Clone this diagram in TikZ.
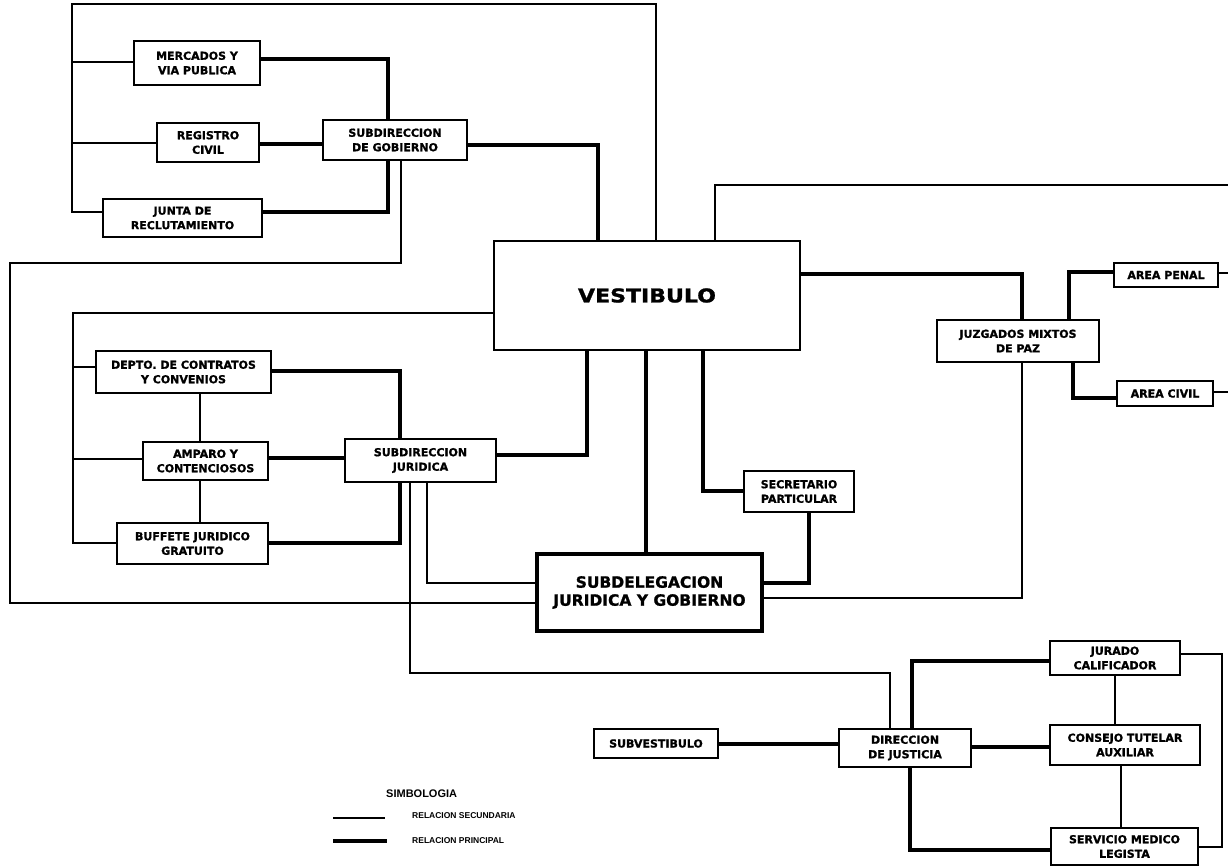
\documentclass[tikz,border=0pt]{standalone}
\usepackage{fontspec}
\usepackage{graphicx}
\setmainfont{DejaVu Sans}
\newfontfamily\heavyfont[FakeBold=1.2]{DejaVu Sans}
\newfontfamily\legfont{Liberation Sans}
\begin{document}
\begin{tikzpicture}[x=1pt,y=-1pt,
  box/.style={draw, line width=1.3pt, inner sep=0pt, align=center,
    font=\heavyfont\bfseries\fontsize{11}{14.5}\selectfont},
  bigbox/.style={draw, line width=4pt, inner sep=0pt, align=center,
    font=\heavyfont\bfseries\fontsize{15.5}{18}\selectfont},
  sec/.style={line width=1.2pt},
  prin/.style={line width=4pt},
  legtitle/.style={inner sep=0pt, font=\legfont\bfseries\fontsize{11}{13}\selectfont},
  legtext/.style={inner sep=0pt, font=\legfont\bfseries\fontsize{8.5}{10}\selectfont}]
\useasboundingbox (0,0) rectangle (1228,867);

% boxes
\node[box, minimum width=126pt, minimum height=44pt] (mercados) at (197,63) {MERCADOS Y\\VIA PUBLICA};
\node[box, minimum width=102pt, minimum height=39pt] (registro) at (208,142.5) {REGISTRO\\CIVIL};
\node[box, minimum width=144pt, minimum height=40pt] (subgob) at (395,140) {SUBDIRECCION\\DE GOBIERNO};
\node[box, minimum width=159pt, minimum height=38pt] (junta) at (182.5,218) {JUNTA DE\\RECLUTAMIENTO};
\node[draw, line width=1.3pt, inner sep=0pt, minimum width=306pt, minimum height=109pt,
  font=\heavyfont\bfseries\fontsize{19}{22}\selectfont] (vestibulo) at (647,295.5) {\scalebox{1.16}[1]{VESTIBULO}};
\node[box, minimum width=175pt, minimum height=42pt] (depto) at (183.5,372) {DEPTO. DE CONTRATOS\\Y CONVENIOS};
\node[box, minimum width=125pt, minimum height=38pt] (amparo) at (205.5,461) {AMPARO Y\\CONTENCIOSOS};
\node[box, minimum width=151pt, minimum height=41pt] (buffete) at (192.5,543.5) {BUFFETE JURIDICO\\GRATUITO};
\node[box, minimum width=151pt, minimum height=43pt] (subjur) at (420.5,460.5) {SUBDIRECCION\\JURIDICA};
\node[box, minimum width=110pt, minimum height=41pt] (secret) at (799,491.5) {SECRETARIO\\PARTICULAR};
\node[bigbox, minimum width=225pt, minimum height=77pt] (subdel) at (649.5,592.5) {SUBDELEGACION\\JURIDICA Y GOBIERNO};
\node[box, minimum width=162pt, minimum height=42pt] (juzg) at (1018,341) {JUZGADOS MIXTOS\\DE PAZ};
\node[box, minimum width=104pt, minimum height=24pt] (penal) at (1166,275) {AREA PENAL};
\node[box, minimum width=96pt, minimum height=25pt] (civil) at (1165,393.5) {AREA CIVIL};
\node[box, minimum width=124pt, minimum height=29pt] (subvest) at (656,743.5) {SUBVESTIBULO};
\node[box, minimum width=132pt, minimum height=38pt] (direcc) at (905,748) {DIRECCION\\DE JUSTICIA};
\node[box, minimum width=130pt, minimum height=34pt] (jurado) at (1115,658) {JURADO\\CALIFICADOR};
\node[box, minimum width=150pt, minimum height=40pt] (consejo) at (1125,745) {CONSEJO TUTELAR\\AUXILIAR};
\node[box, minimum width=147pt, minimum height=37pt] (servicio) at (1124.5,846.5) {SERVICIO MEDICO\\LEGISTA};

% free ends at the picture edge
\coordinate (edgeT) at (1228,185);
\coordinate (edgeP) at (1228,273);
\coordinate (edgeC) at (1228,392);

% principal relations
\draw[prin] (mercados.east |- 0,59) -| (subgob.north -| 388,0);
\draw[prin] (registro.east |- 0,144) -- (subgob.west |- 0,144);
\draw[prin] (junta.east |- 0,212) -| (subgob.south -| 388,0);
\draw[prin] (subgob.east |- 0,145) -| (vestibulo.north -| 598,0);
\draw[prin] (depto.east |- 0,371) -| (subjur.north -| 400,0);
\draw[prin] (amparo.east |- 0,458) -- (subjur.west |- 0,458);
\draw[prin] (buffete.east |- 0,543) -| (subjur.south -| 400,0);
\draw[prin] (subjur.east |- 0,455) -| (vestibulo.south -| 587,0);
\draw[prin] (vestibulo.south -| 646,0) -- (subdel.north -| 646,0);
\draw[prin] (vestibulo.south -| 703,0) |- (secret.west |- 0,491);
\draw[prin] (secret.south -| 809,0) |- (subdel.east |- 0,583);
\draw[prin] (vestibulo.east |- 0,274) -| (juzg.north -| 1022,0);
\draw[prin] (juzg.north -| 1069,0) |- (penal.west |- 0,272);
\draw[prin] (juzg.south -| 1073,0) |- (civil.west |- 0,398);
\draw[prin] (subvest.east |- 0,744) -- (direcc.west |- 0,744);
\draw[prin] (direcc.north -| 912,0) |- (jurado.west |- 0,661);
\draw[prin] (consejo.west |- 0,747) -- (direcc.east |- 0,747);
\draw[prin] (direcc.south -| 910,0) |- (servicio.west |- 0,850);

% secondary relations
\draw[sec] (vestibulo.north -| 656,0) -- (656,4) -| (72,212) -- (junta.west |- 0,212);
\draw[sec] (72,62) -- (mercados.west |- 0,62);
\draw[sec] (72,143) -- (registro.west |- 0,143);
\draw[sec] (subgob.south -| 401,0) -- (401,263) -| (10,603) -- (subdel.west |- 0,603);
\draw[sec] (vestibulo.west |- 0,313) -| (73,543) -- (buffete.west |- 0,543);
\draw[sec] (73,367) -- (depto.west |- 0,367);
\draw[sec] (73,459) -- (amparo.west |- 0,459);
\draw[sec] (depto.south -| 200,0) -- (amparo.north -| 200,0);
\draw[sec] (amparo.south -| 200,0) -- (buffete.north -| 200,0);
\draw[sec] (subjur.south -| 427,0) |- (subdel.west |- 0,583);
\draw[sec] (subjur.south -| 410,0) |- (890,673) -- (direcc.north -| 890,0);
\draw[sec] (vestibulo.north -| 715,0) |- (edgeT);
\draw[sec] (subdel.east |- 0,598) -| (juzg.south -| 1022,0);
\draw[sec] (penal.east |- 0,273) -- (edgeP);
\draw[sec] (civil.east |- 0,392) -- (edgeC);
\draw[sec] (jurado.south -| 1115,0) -- (consejo.north -| 1115,0);
\draw[sec] (consejo.south -| 1121,0) -- (servicio.north -| 1121,0);
\draw[sec] (jurado.east |- 0,654) -| (1222,847) -- (servicio.east |- 0,847);

% legend
\node[legtitle, anchor=west] (simb) at (386,794) {SIMBOLOGIA};
\coordinate (ls1) at (333,818); \coordinate (ls2) at (385,818);
\coordinate (lp1) at (333,841); \coordinate (lp2) at (387,841);
\draw[sec] (ls1) -- (ls2);
\draw[prin] (lp1) -- (lp2);
\node[legtext, anchor=west] (lsec) at (412,816) {RELACION SECUNDARIA};
\node[legtext, anchor=west] (lpri) at (412,841) {RELACION PRINCIPAL};
\end{tikzpicture}
\end{document}
